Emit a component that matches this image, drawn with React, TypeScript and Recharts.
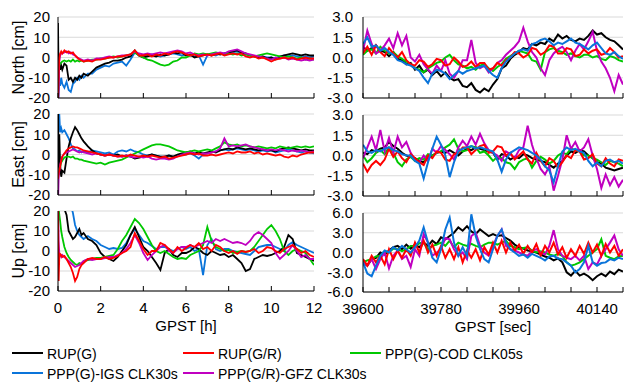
import React from 'react';
import { LineChart, Line, XAxis, YAxis, CartesianGrid } from 'recharts';

const FONT = '"Liberation Sans", Arial, Helvetica, sans-serif';

// ---- time bases ----
// hours since start (finer sampling during convergence)
const LEFT_T = [
  0, 0.03, 0.06, 0.1, 0.15, 0.2, 0.3, 0.4, 0.5, 0.6, 0.7, 0.8, 0.9, 1.0, 1.1,
  1.2, 1.4, 1.6, 1.8, 2.0, 2.2, 2.4, 2.6, 2.8, 3.0,
  3.2, 3.4, 3.6, 3.8, 4.0, 4.2, 4.4, 4.6, 4.8, 5.0,
  5.2, 5.4, 5.6, 5.8, 6.0, 6.2, 6.4, 6.6, 6.8, 7.0,
  7.2, 7.4, 7.6, 7.8, 8.0, 8.2, 8.4, 8.6, 8.8, 9.0,
  9.2, 9.4, 9.6, 9.8, 10.0, 10.2, 10.4, 10.6, 10.8, 11.0,
  11.2, 11.4, 11.6, 11.8, 12.0,
];

// GPS seconds of the zoomed window
const RIGHT_T = [
  39600, 39610, 39620, 39630, 39640, 39650, 39660, 39670, 39680, 39690,
  39700, 39710, 39720, 39730, 39740, 39750, 39760, 39770, 39780, 39790,
  39800, 39810, 39820, 39830, 39840, 39850, 39860, 39870, 39880, 39890,
  39900, 39910, 39920, 39930, 39940, 39950, 39960, 39970, 39980, 39990,
  40000, 40010, 40020, 40030, 40040, 40050, 40060, 40070, 40080, 40090,
  40100, 40110, 40120, 40130, 40140, 40150, 40160, 40170, 40180, 40190,
  40200,
];

const HOUR_TICKS = [0, 2, 4, 6, 8, 10, 12];
const SEC_TICKS = [39600, 39660, 39720, 39780, 39840, 39900, 39960, 40020, 40080, 40140, 40200];
const SEC_LABELS = [39600, 39780, 39960, 40140];
const CM_TICKS = [-20, -10, 0, 10, 20];
const ZN_TICKS = [-3, -1.5, 0, 1.5, 3];
const ZU_TICKS = [-6, -3, 0, 3, 6];

// ---- North error, cm (full session) ----
const NORTH_RUP_G = [
  17, -12, -3, -6, -4, -6, -3, -4, -11, -10, -12, -10, -11, -9, -10,
  -8, -9, -7, -5, -4, -3, -2.5, -1.5, -1.5, -1,
  0, 0.5, 3.5, 1, 0, 0.5, 1, 0.5, 1.5, 1,
  1.5, 2.5, 2, 2.5, 1, 1.5, 0, 0.5, 1, 1.5,
  1, 2, 1.5, 2, 2.5, 3, 3.5, 2.5, 2, 1,
  0.5, 0, 0.5, -0.5, 0, -1, 0.5, 1, 1.5, 2,
  1.5, 1, 1.5, 1, 1,
];
const NORTH_RUP_GR = [
  -25, -8, 0, 2, 3, 2, 3.5, 2.5, 3, 2, 2.5, 1, 0, -1, -1.5,
  -2, -1.5, -2, -1, -1, -0.5, 0, 0, 0.5, 0.5,
  1, 1.5, 3.5, 1, 1, 1.5, 0.5, 1.5, 1, 2,
  1.5, 2.5, 3, 2.5, 1.5, 1, 1.5, 0.5, 1, 1.5,
  1, 1.5, 2, 1, 1.5, 2, 1.5, 2, 0.5, 0,
  0.5, -0.5, 0, -1, -2, -1, -0.5, 0, -0.5, 0,
  -1, -0.5, 0, -0.5, -0.5,
];
const NORTH_COD = [
  -8, -6, -4, -3, -2.5, -2, -1.5, -2, -1.5, -2, -1, -2, -1.5, -2, -1.5,
  -2, -1.5, -1, -1, -0.5, -0.5, 0, 0.5, 0, 0.5,
  1, 1.5, 2.5, 1, 0, -1, -1.5, -2.5, -3.5, -4,
  -3.5, -2, -1.5, 0, 0, 1, 2, 1.5, 2, 1.5,
  2, 2.5, 2, 1.5, 2, 1.5, 2, 1, 1.5, 1,
  0.5, 1, 1.5, 2, 1.5, 1, 0.5, 0, 0.5, 0,
  -0.5, 0, -1, -0.5, -1,
];
const NORTH_IGS = [
  -25, -18, -12, -14, -10, -13, -15, -12, -16, -17, -13, -12, -10, -11, -9,
  -10, -8, -8, -6, -5, -4, -4.5, -3, -2.5, -2,
  -4, -1, 2.5, 1, 0.5, 1, 1.5, 1, 0.5, 1,
  1.5, 2, 1.5, 1, 1.5, 1, 0.5, 1, -3.5, 1,
  1.5, 1, 2, 1.5, 2, 2.5, 3, 2, 1.5, 1,
  0.5, 0, 0.5, 0, 0, -0.5, 0.5, 1, 0.5, 1,
  0.5, 0, 0.5, 0, 0.5,
];
const NORTH_GFZ = [
  -25, -15, -2, 1, 2, 2, 2.5, 3, 2, 2.5, 1.5, 1, 0, -0.5, -1,
  -1.5, -1, -1.5, -0.5, -0.5, 0, 0.5, 0, 0.5, 1,
  1, 1.5, 3, 2, 1.5, 2, 1.5, 2, 2.5, 2,
  2.5, 3, 3.5, 3, 2, 2.5, 1.5, 1, 1.5, 1,
  1.5, 2, 2.5, 2, 3, 3.5, 4, 3, 2, 1.5,
  1, 0.5, 0, -0.5, -1, 0, -0.5, 0, -1, -0.5,
  -1, -1.5, -1, -1.5, -1,
];

// ---- East error, cm (full session) ----
const EAST_RUP_G = [
  25, -10, 10, -5, -11, -8, -9, -2, 4, 8, 11, 13.5, 12, 10, 8,
  6.5, 4, 2, 0.5, 0, -0.5, 0, -0.5, 0, -1,
  -0.5, -1, -2, -1.5, -1, -0.5, 0, -0.5, -1, -1,
  -0.5, -1, 0, 0.5, 1, 1.5, 0.5, 1, 0.5, 1,
  1.5, 1, 2, 2.5, 3, 2.5, 3.5, 3, 2.5, 3,
  2.5, 2, 2.5, 2, 2, 1.5, 2.5, 3, 3.5, 3,
  2.5, 2, 2.5, 2, 2,
];
const EAST_RUP_GR = [
  -12, -9, -8, -6, -3, -1, 0.5, 2, 3, 3.5, 4, 3.5, 3.5, 3, 2.5,
  2, 1.5, 1, 0.5, 0, -0.5, 0, -0.5, -1, -0.5,
  -1, 0, -0.5, -1, -0.5, -1, -0.5, -1, -1.5, -1,
  -2, -1.5, -1, -0.5, 0, 0.5, 0, 0.5, -0.5, -0.5,
  0, -0.5, 0, 0.5, 1, 0.5, 1.5, 1, 1, 1.5,
  0.5, 1, 0, 0.5, 0, -0.5, 0, -1, -1.5, -0.5,
  -1, 0, 0.5, 1, 1,
];
const EAST_COD = [
  -10, -8, -7, -6, -4, -3, -1.5, -1, -1, -1.5, -1, -2, -2, -2.5, -2.5,
  -3, -3.5, -4, -4.5, -4, -5, -4, -3.5, -3, -2.5,
  -1.5, -0.5, 0.5, 1.5, 2.5, 3.5, 4.5, 5, 5, 4.5,
  4, 3, 2, 1.5, 1, 1.5, 2, 1.5, 2, 2.5,
  2, 3, 4, 6, 5, 4.5, 5, 4, 4.5, 4,
  3.5, 4, 3.5, 3, 3.5, 3, 4, 3.5, 3, 3.5,
  4, 3.5, 4, 3.5, 4,
];
const EAST_IGS = [
  25, 12, 20, 11, 13, 11, 12, 10, 8, 5, 3, 2.5, 1.5, 2, 1,
  1.5, 1, 2, 1.5, 1, 0.5, 1, 0, 1.5, 2,
  1.5, 2.5, 1.5, 1, 0, -0.5, 0, -0.5, -1, -1,
  -0.5, -1, -0.5, 0, 0, 0.5, -0.5, -2, 0, 0.5,
  1, 1.5, 2, 2.5, 2, 2.5, 3, 2.5, 2, 2.5,
  2, 1.5, 2, 1.5, 2, 1, 1.5, 2, 2.5, 2,
  1.5, 1, 1.5, 1, 0.5,
];
const EAST_GFZ = [
  -25, -12, -8, -5, -3, -1, 0.5, 1, 1.5, 2, 2.5, 2, 1.5, 1, 1.5,
  1, 0.5, 0, 0.5, 0, -0.5, 0, -0.5, -1, -1,
  -0.5, -1, -1.5, -1, -1.5, -1, -2, -2.5, -2, -2,
  -2.5, -2, -1, 0, 0.5, 1, 0.5, 0, 0.5, 0.5,
  1, 1.5, 3, 8, 4, 4.5, 4, 4.5, 5, 4,
  3.5, 3, 2.5, 2, 2.5, 2, 2.5, 2, 1.5, 2,
  1.5, 2, 1.5, 1, 1.5,
];

// ---- Up error, cm (full session) ----
const UP_RUP_G = [
  30, 26, 22, 28, 25, 24, 21, 18, 10, 8, 6, 7, 9, 11, 8,
  9, 6, 5, 3, -1, -3, -4, -5, -3, 0,
  3, 8, 12, 7, 2, 0, -3, -6, -9.5, -1,
  1, -2, -3, -1, -1, 0, 2, 1, -1, -2,
  0, -1, -2, -1.5, -3, -2, -4, -6, -10, -9,
  -4, -3, -2, -2.5, -2, -1, 0, 2, 8, 6,
  -1, -2, -3, -4, -5,
];
const UP_RUP_GR = [
  22, -15, -3, -1.5, -2, -3, -2.5, -4, -6, -8, -11, -15, -13, -9, -7,
  -6, -4, -3.5, -4, -4, -3, -4, -3.5, -2.5, -1,
  0, 2, 9, 5, 1, -2, 0, 0, 4, 3,
  1, -1, 2, 0, 1.5, 3, 2, 4, 1, 2,
  0, 3, 2, 0, -1, 0, -1.5, 0, -0.5, 0,
  1, -1, 0, 2, 1.5, 0, -1, 1, 2, 3,
  1, -1, 0, -2, -3,
];
const UP_COD = [
  20, 22, 18, 15, 10, 7, 2, -1, -3, -4.5, -5.5, -6.5, -7, -6, -6.5,
  -5, -4.5, -4, -3.5, -3.5, -3, -2.5, -2, 1, 5,
  8, 12, 16, 14, 11, 7, 3, 0, -1, 0,
  -1.5, -3, -4, -3.5, -4, -2, -1, 0, 3, 12,
  5, 2, 1, 0, 0.5, -1, -0.5, 0, -0.5, 0,
  2, 5, 8, 11, 13, 10, 6, 0, -2, 0,
  1, 0, -1, -4, -7,
];
const UP_IGS = [
  30, 28, 30, 26, 27, 25, 24, 23, 22, 23, 19, 13, 10, 8, 7,
  6, 7.5, 6, 5, 3, 2, 1, 1.5, 1, 1.5,
  4, 8, 11, 8, 5, 4, 2.5, 1, 2, 2,
  1, 0, 1, 2, 1, 2, 0, 1, -12, 3,
  6, 1, 0, 1, 1, 0, -0.5, -1, -1.5, -2,
  0, 2, 2.5, 3, 3, 2, 1, 0, 3, 4.5,
  3, 2, 1, 0, -1,
];
const UP_GFZ = [
  25, 5, -1, -2, -3, -2, -3, -4, -5, -6, -7, -8, -7.5, -7, -6,
  -5, -4, -4.5, -4, -4, -3.5, -3, -3, -2, -1,
  1, 4, 8, 4, -1, -4.5, -2, 0, 2, 3,
  0, -1, 1, 2, 2, 3, 2, 3, 4, 5,
  4, 6, 5, 6, 5, 4, 4.5, 4, 3, 5,
  8, 9.5, 8, 6, 4, -1, -4, -2, 0, 3,
  0, -3, -2, -4, -4,
];

// ---- zoomed window, North, cm ----
const ZN_RUP_G = [
  0.8, 0.5, 0.7, 0.9, 0.5, 0.4, 0.1, 0.4, -0.1, -0.2,
  -0.5, -0.4, -0.9, -0.6, -1.1, -0.9, -1.3, -1.0, -1.4, -1.1,
  -1.5, -1.7, -1.6, -2.1, -2.2, -1.9, -2.4, -2.6, -2.3, -2.5,
  -2.0, -1.6, -0.8, -0.6, -0.1, 0.2, 0.4, 0.7, 0.6, 1.0,
  0.9, 1.1, 1.0, 1.4, 1.2, 1.7, 1.4, 1.6, 1.3, 1.2,
  1.4, 1.3, 1.6, 2.0, 1.7, 1.8, 1.5, 1.3, 1.2, 0.9,
  0.6,
];
const ZN_RUP_GR = [
  0.3, 0.8, 0.2, 0.9, 0.4, 0.1, 0.7, 0.3, 0.0, 0.4,
  -0.2, -0.5, -0.6, -0.2, -0.3, -0.7, -0.5, -0.1, -0.2, -0.6,
  -0.5, 0.0, -0.3, -0.7, -0.6, -0.3, -0.7, -0.4, -0.4, -0.9,
  -0.8, -0.4, -0.6, -0.2, 0.0, 0.4, 0.3, 0.0, 0.2, 0.7,
  0.6, 0.2, 0.4, 0.9, 0.8, 0.3, 0.3, 0.7, 0.6, 0.1,
  0.2, 0.6, 0.3, 0.5, 0.6, 0.2, 0.3, 0.7, 0.4, 0.0,
  0.1,
];
const ZN_COD = [
  0.2, 0.5, 0.6, 0.3, 0.8, 0.5, 0.3, 0.4, 0.1, -0.1,
  -0.3, -0.5, -0.8, -0.9, -1.1, -0.8, -0.6, -0.4, -0.3, 0.0,
  0.2, -0.2, -0.5, -0.6, -0.8, -0.7, -0.9, -0.6, -0.5, -0.8,
  -1.0, -0.7, -0.5, -0.1, 0.1, 0.3, 0.5, 0.4, 0.3, -0.2,
  -0.3, -0.9, 0.4, 0.6, 0.7, 0.5, 0.4, 0.2, 0.3, 0.1,
  0.0, 0.2, 0.2, 0.0, 0.1, -0.1, -0.2, 0.1, 0.0, -0.2,
  -0.3,
];
const ZN_IGS = [
  1.0, 1.5, 0.8, 0.9, 0.5, 0.7, 0.4, 0.2, -0.2, -0.3,
  -0.5, -0.6, -0.8, -1.0, -1.5, -1.9, -1.2, -0.9, -1.0, -1.2,
  -1.6, -1.3, -1.0, -1.2, -1.0, -0.9, -0.8, -0.7, -0.6, -1.0,
  -1.3, -1.5, -0.8, -0.3, 0.0, 0.3, 0.5, 0.6, 0.5, 1.0,
  1.1, 1.3, 1.4, 1.2, 0.9, 1.1, 1.0, 1.2, 1.4, 1.1,
  1.0, 0.8, 0.6, 0.9, 1.1, 0.7, 0.3, 0.2, 0.4, 0.1,
  -0.1,
];
const ZN_GFZ = [
  0.5, 2.0, 1.0, 0.3, 0.5, 0.9, 1.4, 0.7, 1.8, 0.9,
  1.6, 0.0, -0.3, 0.2, -0.5, -0.9, -1.2, -0.6, -1.0, -0.2,
  -1.2, -1.5, -1.0, -0.2, -0.2, 1.3, -0.4, -0.8, -0.6, -1.1,
  -0.8, -0.4, -0.2, 0.2, 0.5, 0.8, 1.2, 2.2, 1.2, 0.4,
  0.0, -0.8, -1.3, -0.2, 0.3, 0.6, 0.8, 0.4, -0.2, 0.5,
  1.0, 0.6, 1.2, 1.9, 0.5, -0.3, -0.8, -1.5, -2.5, -1.3,
  -2.0,
];

// ---- zoomed window, East, cm ----
const ZE_RUP_G = [
  0.2, 0.1, 0.4, 0.3, 0.5, 0.6, 1.0, 0.7, 0.5, 0.2,
  0.0, -0.1, -0.2, -0.4, -0.5, -0.2, 0.0, 0.2, 0.3, 0.2,
  0.4, 0.2, 0.0, 0.3, 0.5, 0.4, 0.6, 0.5, 0.4, 0.3,
  0.2, -0.3, 0.1, 0.0, -0.3, -0.1, -0.2, 0.1, 0.0, -0.2,
  -0.3, -0.4, -0.5, -0.7, -0.9, -0.6, -0.4, 0.0, 0.3, 0.2,
  0.4, 0.3, 0.0, -0.2, -0.5, -0.6, -0.9, -1.0, -1.1, -1.0,
  -0.9,
];
const ZE_RUP_GR = [
  -0.6, -1.2, -0.7, -0.4, -0.7, -0.3, 0.5, -0.1, 0.3, -0.2,
  -0.5, 0.1, -0.2, -0.5, -0.7, 0.0, -0.2, 0.3, 0.2, -0.3,
  -0.4, 0.1, 0.2, 0.6, 0.6, 0.1, 0.4, 0.7, 0.8, 0.2,
  0.3, 0.7, 0.6, 0.0, 0.2, -0.3, 0.0, 0.3, -0.3, -0.6,
  0.2, -0.4, -0.8, -0.2, -0.4, -0.9, -0.5, 0.0, -0.2, 0.4,
  0.3, -0.3, -0.2, 0.1, -0.6, -0.8, -0.2, -0.6, -0.8, -0.3,
  -0.4,
];
const ZE_COD = [
  0.0, -0.5, -0.2, 0.2, 0.4, 0.1, 0.6, 0.2, -0.5, -0.8,
  -0.3, -0.1, -0.4, -0.2, -0.3, 0.1, 0.0, 0.2, 0.3, 0.6,
  0.8, 1.2, 0.5, 0.3, 0.4, 0.7, 0.6, 0.2, 0.3, 0.0,
  -0.4, -0.1, -0.2, -0.5, -0.6, -1.0, -0.5, -0.3, -0.2, -0.9,
  -0.4, -0.1, -0.3, -0.6, -0.4, 0.0, 0.2, 0.1, 0.5, 0.4,
  0.3, 0.0, 0.0, -0.2, -0.3, -0.5, -0.7, -0.4, -0.5, -0.6,
  -0.8,
];
const ZE_IGS = [
  0.8, 0.3, 0.2, 0.4, 0.3, 0.5, 0.6, 0.4, 0.3, 0.1,
  0.0, 0.0, -0.4, -0.6, -1.7, -0.5, 0.5, 1.4, 0.8, 0.0,
  -1.6, -0.5, 0.3, 0.5, 0.6, 0.7, 0.5, 0.6, 0.5, 0.4,
  0.3, -0.3, -1.2, -0.3, 0.2, 0.4, 0.6, 0.5, 0.4, 0.2,
  0.0, -0.3, -0.8, -1.1, -2.0, -0.8, 0.3, 0.6, 0.4, 0.5,
  0.3, 0.2, -0.4, -0.8, -0.5, -0.8, -0.4, -0.3, -0.5, -0.4,
  -0.6,
];
const ZE_GFZ = [
  -0.2, 0.6, 1.4, 0.4, 1.9, 0.3, 1.3, 0.2, 1.4, 0.6,
  1.0, 0.2, -0.3, -0.5, 0.0, -0.4, 0.5, 0.2, 0.7, 0.4,
  0.1, -0.3, 0.6, 1.1, 0.7, 1.4, 0.8, 1.6, 0.9, 0.4,
  0.2, 0.0, -0.4, 0.3, 0.1, -0.2, 0.4, 0.6, 2.2, 0.8,
  -0.2, -1.0, -1.4, -0.8, -2.6, -1.5, -0.3, 1.5, 0.5, 1.0,
  0.3, 0.6, 1.2, 0.0, -1.0, -2.4, -1.4, -2.2, -1.6, -2.3,
  -1.8,
];

// ---- zoomed window, Up, cm ----
const ZU_RUP_G = [
  -1.5, -2.0, -1.0, -0.8, 0.0, -0.3, 0.3, 0.8, 1.0, 0.5,
  1.2, 0.6, 1.2, 0.8, 1.5, 1.0, 1.8, 1.3, 2.3, 2.0,
  2.5, 3.0, 3.8, 3.3, 4.0, 3.2, 2.8, 3.5, 3.0, 2.5,
  2.8, 2.5, 2.6, 2.2, 1.8, 1.2, 0.8, 0.6, 0.3, 0.2,
  0.0, -0.3, -0.6, -0.8, -1.2, -0.9, -1.5, -3.0, -3.5, -2.8,
  -3.5, -3.2, -3.6, -4.2, -3.6, -3.2, -3.6, -2.9, -3.3, -2.6,
  -2.9,
];
const ZU_RUP_GR = [
  -1.0, -2.0, -0.5, -1.5, -0.5, -1.8, 0.5, -1.0, 0.3, -0.8,
  0.5, -0.5, 1.5, 0.0, 1.8, 0.0, 1.2, -0.5, 1.0, -0.8,
  0.5, -1.0, 0.8, -1.5, 0.3, -0.8, 0.5, -1.2, 0.8, -0.3,
  1.5, 0.0, 1.8, 0.0, 1.5, 0.3, 1.2, -0.2, 1.0, 0.0,
  1.3, -0.5, 1.0, 0.0, 1.5, -0.3, 0.8, -0.8, 0.5, -0.5,
  1.0, -0.2, 1.5, 0.0, 1.2, -0.5, 1.3, 0.0, 1.0, -0.5,
  0.5,
];
const ZU_COD = [
  -1.5, -1.2, -1.0, -0.6, -0.5, 0.2, 0.0, 0.6, 0.5, 0.2,
  0.5, 1.0, 1.0, 1.4, 1.5, 0.5, 1.0, 1.2, 1.5, 1.0,
  1.8, 0.8, 1.5, 1.2, 1.0, 1.3, 1.0, 0.8, 1.2, 1.5,
  1.5, 1.2, 1.5, 1.8, 1.0, 0.8, 0.5, 0.7, 0.8, 0.3,
  0.0, 0.2, 0.0, -0.3, -0.5, -0.2, -0.5, -1.5, -2.0, -1.8,
  -1.5, -1.0, -0.5, 0.0, 0.5, 2.0, -0.5, -0.8, -1.0, -0.6,
  -0.5,
];
const ZU_IGS = [
  -1.5, -3.2, -3.6, -2.0, -0.5, 0.3, 0.0, 0.8, 0.3, 1.0,
  0.5, 0.0, 0.8, 1.8, 3.8, 1.5, -0.8, -1.5, 0.5, 3.5,
  5.3, 1.5, -0.5, 0.8, -0.5, 5.8, 2.5, 0.5, -1.0, -1.5,
  0.5, 2.5, 3.5, 1.5, 0.5, 0.0, -0.5, -0.3, -0.8, -0.2,
  -0.5, -0.8, -1.2, -0.6, -0.5, -0.9, -1.0, -1.5, -2.0, -3.0,
  -2.5, -1.5, 1.0, -1.5, -2.0, -1.6, -1.5, -1.0, -1.2, -0.8,
  -1.0,
];
const ZU_GFZ = [
  -1.5, -2.0, -1.0, -2.5, -1.0, 0.0, -2.4, -0.5, 0.3, -1.0,
  -0.5, -2.2, 0.5, -0.5, 2.8, 1.5, -0.5, 0.0, 0.5, 2.2,
  2.0, 0.5, -0.5, 0.0, -1.0, 2.5, 3.0, 1.0, 0.0, -0.5,
  1.0, 2.5, 3.5, 1.0, 0.5, 0.3, 0.0, -0.3, -0.5, 0.2,
  0.5, 0.0, -0.3, 1.0, 3.4, 0.5, -0.5, -0.8, -1.0, -0.5,
  -1.2, -0.5, -2.5, -1.5, -1.8, -0.5, 0.5, 1.5, 2.6, 0.5,
  -0.5,
];

// ---- series ----
type SeriesKey = 'rupG' | 'rupGR' | 'cod' | 'igs' | 'gfz';
const SERIES: { key: SeriesKey; name: string; color: string }[] = [
  { key: 'rupG', name: 'RUP(G)', color: '#000000' },
  { key: 'rupGR', name: 'RUP(G/R)', color: '#ff0000' },
  { key: 'cod', name: 'PPP(G)-COD CLK05s', color: '#00c800' },
  { key: 'igs', name: 'PPP(G)-IGS CLK30s', color: '#0a74da' },
  { key: 'gfz', name: 'PPP(G/R)-GFZ CLK30s', color: '#c000c0' },
];
const COLOR: Record<SeriesKey, string> = Object.fromEntries(SERIES.map((s) => [s.key, s.color])) as any;

const LEFT_ORDER: SeriesKey[] = ['igs', 'rupG', 'cod', 'gfz', 'rupGR'];
const RIGHT_ORDER: SeriesKey[] = ['rupG', 'cod', 'gfz', 'rupGR', 'igs'];

type Row = { t: number } & Record<SeriesKey, number>;

function buildRows(t: number[], rupG: number[], rupGR: number[], cod: number[], igs: number[], gfz: number[]): Row[] {
  return t.map((x, i) => ({ t: x, rupG: rupG[i], rupGR: rupGR[i], cod: cod[i], igs: igs[i], gfz: gfz[i] }));
}

const NORTH_ROWS = buildRows(LEFT_T, NORTH_RUP_G, NORTH_RUP_GR, NORTH_COD, NORTH_IGS, NORTH_GFZ);
const EAST_ROWS = buildRows(LEFT_T, EAST_RUP_G, EAST_RUP_GR, EAST_COD, EAST_IGS, EAST_GFZ);
const UP_ROWS = buildRows(LEFT_T, UP_RUP_G, UP_RUP_GR, UP_COD, UP_IGS, UP_GFZ);
const ZN_ROWS = buildRows(RIGHT_T, ZN_RUP_G, ZN_RUP_GR, ZN_COD, ZN_IGS, ZN_GFZ);
const ZE_ROWS = buildRows(RIGHT_T, ZE_RUP_G, ZE_RUP_GR, ZE_COD, ZE_IGS, ZE_GFZ);
const ZU_ROWS = buildRows(RIGHT_T, ZU_RUP_G, ZU_RUP_GR, ZU_COD, ZU_IGS, ZU_GFZ);

// ---- axis decorations ----
const XTick = (props: any) => {
  const { x, y, payload, labels } = props;
  const show = labels && labels.includes(payload.value);
  return (
    <g>
      <line x1={x} x2={x} y1={y} y2={y - 5} stroke="#000" strokeWidth={1} />
      {show && (
        <text x={x} y={y + 22} textAnchor="middle" fontSize={15} fill="#000" fontFamily={FONT}>
          {payload.value}
        </text>
      )}
    </g>
  );
};

const XTitle = (props: any) => {
  const { viewBox, text } = props;
  if (!viewBox) return null;
  return (
    <text x={viewBox.x + viewBox.width / 2} y={viewBox.y + 40} textAnchor="middle" fontSize={15} fill="#000" fontFamily={FONT}>
      {text}
    </text>
  );
};

const YTitle = (props: any) => {
  const { viewBox, text } = props;
  if (!viewBox) return null;
  const cx = viewBox.x + 24;
  const cy = viewBox.y + viewBox.height / 2;
  return (
    <text x={cx} y={cy} transform={`rotate(-90 ${cx} ${cy})`} textAnchor="middle" fontSize={16} fill="#000" fontFamily={FONT}>
      {text}
    </text>
  );
};

type PanelProps = {
  rows: Row[];
  left: number;
  top: number;
  yAxisWidth: number;
  plotW: number;
  plotH: number;
  rightPad: number;
  xDomain: [number, number];
  xTicks: number[];
  xLabels: number[];
  xTitle?: string;
  yDomain: [number, number];
  yTicks: number[];
  yFmt: (v: number) => string;
  yTitle?: string;
  yGap: number;
  order: SeriesKey[];
  lineWidth: number;
};

const TOP_PAD = 10;

function Panel(p: PanelProps) {
  const xH = p.xTitle ? 42 : 2;
  const bottomPad = p.xTitle ? 2 : 10;
  const width = p.yAxisWidth + p.plotW + p.rightPad;
  const height = TOP_PAD + p.plotH + xH + bottomPad;
  return (
    <div style={{ position: 'absolute', left: p.left, top: p.top - TOP_PAD }}>
      <LineChart width={width} height={height} data={p.rows} margin={{ top: TOP_PAD, right: p.rightPad, bottom: bottomPad, left: 0 }}>
        <CartesianGrid vertical={false} stroke="#d9d9d9" strokeWidth={1} />
        <XAxis
          dataKey="t"
          type="number"
          domain={p.xDomain}
          ticks={p.xTicks}
          interval={0}
          allowDataOverflow
          height={xH}
          tickSize={0}
          tickMargin={0}
          tickLine={false}
          axisLine={{ stroke: '#000', strokeWidth: 1 }}
          tick={<XTick labels={p.xLabels} />}
          label={p.xTitle ? <XTitle text={p.xTitle} /> : undefined}
        />
        <YAxis
          type="number"
          domain={p.yDomain}
          ticks={p.yTicks}
          interval={0}
          allowDataOverflow
          width={p.yAxisWidth}
          tickSize={0}
          tickMargin={p.yGap}
          tickLine={false}
          axisLine={{ stroke: '#000', strokeWidth: 1 }}
          tickFormatter={p.yFmt}
          tick={{ fontSize: 15, fill: '#000', fontFamily: FONT }}
          label={p.yTitle ? <YTitle text={p.yTitle} /> : undefined}
        />
        {p.order.map((k) => (
          <Line
            key={k}
            dataKey={k}
            type="linear"
            stroke={COLOR[k]}
            strokeWidth={p.lineWidth}
            dot={false}
            activeDot={false}
            isAnimationActive={false}
          />
        ))}
      </LineChart>
    </div>
  );
}

const fmtInt = (v: number) => String(v);
const fmt1 = (v: number) => v.toFixed(1);

function LegendBox() {
  const cols = [12, 183, 350];
  const rows = [13, 33];
  return (
    <svg width={625} height={44} style={{ position: 'absolute', left: 0, top: 340 }}>
      {SERIES.map((s, i) => {
        const x = cols[i % 3];
        const y = rows[Math.floor(i / 3)];
        return (
          <g key={s.key}>
            <line x1={x} x2={x + 31} y1={y} y2={y} stroke={s.color} strokeWidth={2} />
            <text x={x + 35} y={y + 6} fontSize={14} fill="#000" fontFamily={FONT}>
              {s.name}
            </text>
          </g>
        );
      })}
    </svg>
  );
}

export default function App() {
  const leftBase = { left: 0, yAxisWidth: 58, plotW: 256, rightPad: 12, xDomain: [0, 12] as [number, number], xTicks: HOUR_TICKS, yDomain: [-20, 20] as [number, number], yTicks: CM_TICKS, yFmt: fmtInt, yGap: 8, order: LEFT_ORDER, lineWidth: 1.8 };
  const rightBase = { left: 300, yAxisWidth: 63, plotW: 260, rightPad: 2, xDomain: [39600, 40200] as [number, number], xTicks: SEC_TICKS, yFmt: fmt1, yGap: 10, order: RIGHT_ORDER, lineWidth: 2 };
  return (
    <div style={{ position: 'absolute', left: 0, top: 0, width: 625, height: 384, background: '#fff', fontFamily: FONT, overflow: 'hidden' }}>
      <Panel {...leftBase} rows={NORTH_ROWS} top={17} plotH={81} xLabels={[]} yTitle="North [cm]" />
      <Panel {...leftBase} rows={EAST_ROWS} top={114} plotH={81} xLabels={[]} yTitle="East [cm]" />
      <Panel {...leftBase} rows={UP_ROWS} top={211} plotH={80} xLabels={HOUR_TICKS} xTitle="GPST [h]" yTitle="Up [cm]" />
      <Panel {...rightBase} rows={ZN_ROWS} top={17} plotH={81} xLabels={[]} yDomain={[-3, 3]} yTicks={ZN_TICKS} />
      <Panel {...rightBase} rows={ZE_ROWS} top={115} plotH={81} xLabels={[]} yDomain={[-3, 3]} yTicks={ZN_TICKS} />
      <Panel {...rightBase} rows={ZU_ROWS} top={213} plotH={79} xLabels={SEC_LABELS} xTitle="GPST [sec]" yDomain={[-6, 6]} yTicks={ZU_TICKS} />
      <LegendBox />
    </div>
  );
}
